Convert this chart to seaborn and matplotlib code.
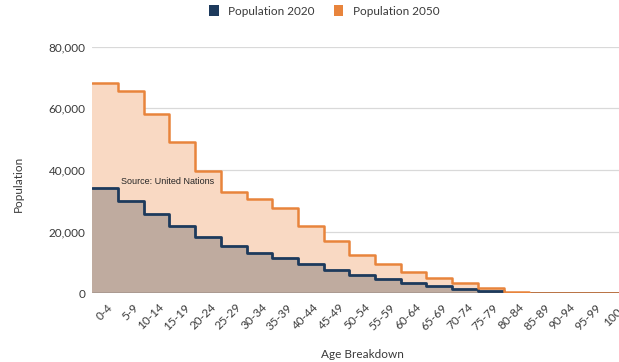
import numpy as np
import pandas as pd
import matplotlib
matplotlib.use("Agg")
import matplotlib.pyplot as plt
from matplotlib.patches import Patch
from matplotlib.ticker import FuncFormatter
import matplotlib.transforms as mtransforms
import seaborn as sns

# Age groups and population counts
age_groups = ["0-4", "5-9", "10-14", "15-19", "20-24", "25-29", "30-34", "35-39",
              "40-44", "45-49", "50-54", "55-59", "60-64", "65-69", "70-74", "75-79",
              "80-84", "85-89", "90-94", "95-99", "100+"]
pop_2020 = [34000, 30000, 25800, 21900, 18100, 15200, 13000, 11300,
            9400, 7600, 5900, 4600, 3400, 2400, 1400, 650,
            150, 0, 0, 0, 0]
pop_2050 = [68100, 65600, 58300, 49000, 39800, 32700, 30600, 27800,
            21800, 17100, 12500, 9500, 7000, 5100, 3400, 1800,
            500, 120, 40, 10, 0]
series_names = ["Population 2020", "Population 2050"]
y_ticks = [0, 20000, 40000, 60000, 80000]

sns.set_theme(style="white")
plt.rcParams["font.family"] = ["Lato", "DejaVu Sans"]

navy = "#1d3a5c"
orange = "#e8843c"
navy_fill = "#bfab9f"
orange_fill = "#f9d9c3"
text_col = "#3a3a3a"

n = len(age_groups)
edges = np.arange(n + 1) - 0.5
rows = []
for name, vals in zip(series_names, [pop_2020, pop_2050]):
    for e, v in zip(edges, list(vals) + [vals[-1]]):
        rows.append({"edge": e, "value": v, "series": name})
df = pd.DataFrame(rows)

fig = plt.figure(figsize=(6.19, 3.62), dpi=100)
ax = fig.add_axes([0.1491, 0.1898, 0.872, 0.6815])

# filled areas under each step outline
ax.fill_between(edges, list(pop_2050) + [pop_2050[-1]], step="post",
                color=orange_fill, lw=0, zorder=1)
ax.fill_between(edges, list(pop_2020) + [pop_2020[-1]], step="post",
                color=navy_fill, lw=0, zorder=2)

for yv in y_ticks[1:]:
    ax.axhline(yv, color="#d9d9d9", lw=0.9, zorder=0.5)

ax.axhline(0, color="#595959", lw=1.0, zorder=2.5)

sns.lineplot(data=df[df.series == "Population 2020"], x="edge", y="value",
             color=navy, lw=2.0, drawstyle="steps-post", ax=ax, zorder=3,
             solid_joinstyle="round", legend=False)
sns.lineplot(data=df[df.series == "Population 2050"], x="edge", y="value",
             color=orange, lw=1.8, drawstyle="steps-post", ax=ax, zorder=4,
             solid_joinstyle="round", legend=False)

ax.set_xlim(-0.5, n - 0.5)
ax.set_ylim(0, 80000)
ax.set_yticks(y_ticks)
ax.yaxis.set_major_formatter(FuncFormatter(lambda v, p: f"{int(v):,}"))
ax.set_xticks(np.arange(n))
ax.set_xticklabels(age_groups, rotation=45, ha="right", rotation_mode="anchor")
ax.tick_params(axis="both", length=0, colors=text_col, labelsize=8.5)
ax.tick_params(axis="y", pad=5)
ax.tick_params(axis="x", pad=6)
shift = mtransforms.ScaledTranslation(2 / 100, 0, fig.dpi_scale_trans)
for lbl in ax.get_xticklabels():
    lbl.set_transform(lbl.get_transform() + shift)
for s in ax.spines.values():
    s.set_visible(False)
ax.set_xlabel("")
ax.set_ylabel("")

ax.text(0.6, 36400, "Source: United Nations", fontsize=6.5,
        family=["Liberation Sans", "DejaVu Sans"], color="#262626",
        ha="left", va="center", zorder=6)

fig.text(0.029, 0.493, "Population", rotation=90, ha="center", va="center",
         fontsize=8.5, color=text_col)
fig.text(0.585, 0.022, "Age Breakdown", ha="center", va="center",
         fontsize=8.5, color=text_col)

handles = [Patch(facecolor=navy, edgecolor="none"),
           Patch(facecolor=orange, edgecolor="none")]
fig.legend(handles, series_names, loc="center", bbox_to_anchor=(0.524, 0.97),
           ncol=2, frameon=False, fontsize=8.5, handlelength=0.8,
           handleheight=1.1, handletextpad=0.8, columnspacing=1.6,
           labelcolor=text_col)

fig.savefig("out.png", dpi=100)
